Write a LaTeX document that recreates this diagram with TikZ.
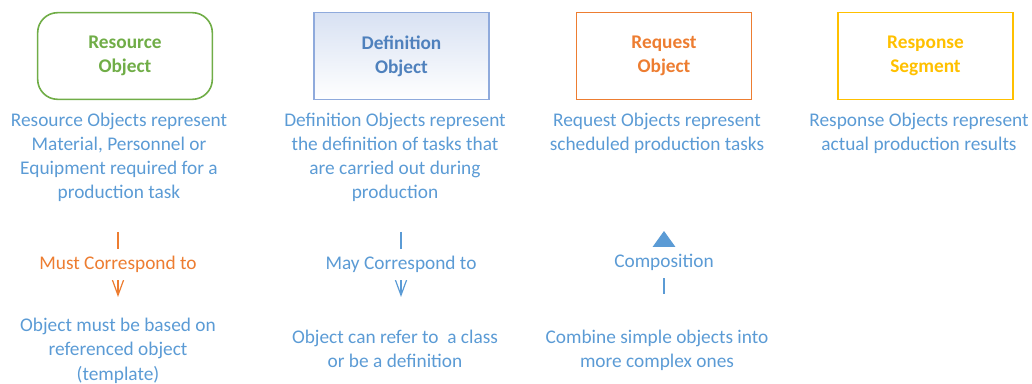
\documentclass[tikz,border=0pt]{standalone}
\usepackage{fontspec}
\setmainfont{Carlito}
\usetikzlibrary{arrows.meta}

\definecolor{resgreen}{RGB}{112,173,71}
\definecolor{defblue}{RGB}{143,170,220}
\definecolor{deftext}{RGB}{79,129,189}
\definecolor{reqorange}{RGB}{237,125,49}
\definecolor{respyellow}{RGB}{255,192,0}
\definecolor{notetext}{RGB}{91,155,213}

\begin{document}
\begin{tikzpicture}[x=0.75pt,y=0.75pt,yscale=-1,xscale=1,
  objbox/.style={draw,line width=1.2pt,minimum width=131pt,minimum height=65pt,
    align=center,font=\fontsize{14.5pt}{18pt}\selectfont\bfseries},
  note/.style={color=notetext,align=center,inner sep=0pt,anchor=base,
    font=\fontsize{14.5pt}{18pt}\selectfont},
  rellabel/.style={fill=white,inner sep=1pt,minimum height=23pt,
    font=\fontsize{14.5pt}{18pt}\selectfont},
  relline/.style={line width=0.9pt}]
\path (0,0) rectangle (1032,383); %set diagram size

%Shape: Rounded Rectangle
\draw (125,56) node (resource) [objbox,rounded corners=15pt,color=resgreen] {Resource\\Object};
%Shape: Rectangle
\draw (401.5,56) node (definition) [objbox,color=defblue,text=deftext,top color=defblue!35,bottom color=white] {Definition\\Object};
%Shape: Rectangle
\draw (664,56) node (request) [objbox,color=reqorange] {Request\\Object};
%Shape: Rectangle
\draw (925.5,56) node (response) [objbox,color=respyellow] {Response\\Segment};

% Text Node (base = last line)
\draw (119,199) node (resnote) [note] {Resource Objects represent\\Material, Personnel or\\Equipment required for a\\production task};
% Text Node
\draw (395,199) node (defnote) [note] {Definition Objects represent\\the definition of tasks that\\are carried out during\\production};
% Text Node
\draw (657,151) node (reqnote) [note] {Request Objects represent\\scheduled production tasks};
% Text Node
\draw (919,151) node (respnote) [note] {Response Objects represent\\actual production results};

%Straight Lines
\coordinate (musttop) at (118,232);
\coordinate (mustend) at (118,297);
\draw [relline,color=reqorange,-{Straight Barb[length=15pt,width=11pt]}] (musttop) -- (mustend)
  node (must) [midway,rellabel,text=reqorange] {Must Correspond to};
%Straight Lines
\coordinate (maytop) at (401,232);
\coordinate (mayend) at (401,297);
\draw [relline,color=notetext,-{Straight Barb[length=15pt,width=11pt]}] (maytop) -- (mayend)
  node (may) [midway,rellabel,text=notetext] {May Correspond to};
%Straight Lines
\coordinate (compend) at (664,231);
\coordinate (compbot) at (664,294);
\draw [relline,color=notetext,-{Triangle[length=12pt,width=17pt]}] (compbot) -- (compend)
  node (comp) [midway,rellabel,text=notetext] {Composition};

% Text Node
\draw (118,380) node (mustnote) [note] {Object must be based on\\referenced object\\(template)};
% Text Node
\draw (395,368) node (maynote) [note] {Object can refer to~~a class\\or be a definition};
% Text Node
\draw (657,368) node (compnote) [note] {Combine simple objects into\\more complex ones};

\end{tikzpicture}
\end{document}
